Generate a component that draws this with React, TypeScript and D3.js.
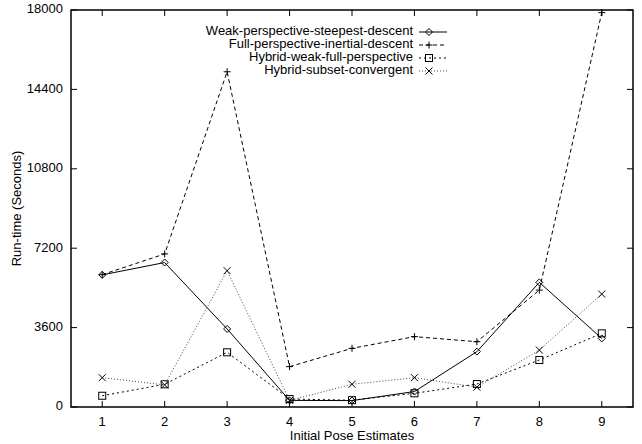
import React from "react";
import * as d3 from "d3";

const xCategories = [1, 2, 3, 4, 5, 6, 7, 8, 9];
const yTicks = [0, 3600, 7200, 10800, 14400, 18000];

const weakSteepest = [5990, 6550, 3540, 300, 290, 700, 2510, 5650, 3110];
const fullInertial = [6000, 6940, 15200, 1830, 2660, 3190, 2960, 5300, 17880];
const hybridWeakFull = [510, 1030, 2480, 360, 310, 620, 1040, 2130, 3340];
const hybridSubset = [1330, 1000, 6180, 300, 1030, 1330, 900, 2580, 5120];

const seriesNames = [
  "Weak-perspective-steepest-descent",
  "Full-perspective-inertial-descent",
  "Hybrid-weak-full-perspective",
  "Hybrid-subset-convergent",
];

const W = 642;
const H = 444;
const M = { left: 71, right: 633, top: 10, bottom: 407 };
const FONT = "'Liberation Sans', Arial, Helvetica, sans-serif";

type Series = {
  name: string;
  values: number[];
  dash: string;
  color: string;
  marker: "diamond" | "plus" | "square" | "cross";
};

const series: Series[] = [
  { name: seriesNames[0], values: weakSteepest, dash: "none", color: "#000", marker: "diamond" },
  { name: seriesNames[1], values: fullInertial, dash: "4,3", color: "#000", marker: "plus" },
  { name: seriesNames[2], values: hybridWeakFull, dash: "2,3", color: "#000", marker: "square" },
  { name: seriesNames[3], values: hybridSubset, dash: "1,2", color: "#444", marker: "cross" },
];

function Marker({ type, x, y }: { type: Series["marker"]; x: number; y: number }) {
  const s = 3.5;
  const common = { fill: "none", stroke: "#000", strokeWidth: 1 };
  if (type === "diamond") {
    return <path d={`M${x},${y - s}L${x + s},${y}L${x},${y + s}L${x - s},${y}Z`} {...common} />;
  }
  if (type === "plus") {
    return <path d={`M${x - s},${y}H${x + s}M${x},${y - s}V${y + s}`} {...common} />;
  }
  if (type === "square") {
    return <rect x={x - s} y={y - s} width={2 * s} height={2 * s} {...common} />;
  }
  return <path d={`M${x - s},${y - s}L${x + s},${y + s}M${x - s},${y + s}L${x + s},${y - s}`} {...common} />;
}

export default function App() {
  const x = d3.scaleLinear().domain([0.5, 9.5]).range([M.left, M.right]);
  const y = d3.scaleLinear().domain([0, 18000]).range([M.bottom, M.top]);
  const line = d3
    .line<number>()
    .x((_, i) => x(xCategories[i]))
    .y((d) => y(d));

  const tickLen = 6;
  const legendTextX = 413;
  const legendY0 = 32;
  const legendStep = 13;

  return (
    <div style={{ position: "absolute", left: 0, top: 0 }}>
      <svg width={W} height={H} style={{ display: "block", background: "#fff" }}>
        <rect x={0} y={0} width={W} height={H} fill="#fff" />
        {/* ticks */}
        {xCategories.map((c) => (
          <g key={"xt" + c}>
            <line x1={x(c)} x2={x(c)} y1={M.bottom} y2={M.bottom - tickLen} stroke="#000" />
            <line x1={x(c)} x2={x(c)} y1={M.top} y2={M.top + tickLen} stroke="#000" />
            <text
              x={x(c)}
              y={423}
              textAnchor="middle"
              dominantBaseline="middle"
              fontFamily={FONT}
              fontSize={13}
            >
              {c}
            </text>
          </g>
        ))}
        {yTicks.map((t) => (
          <g key={"yt" + t}>
            <line x1={M.left} x2={M.left + tickLen} y1={y(t)} y2={y(t)} stroke="#000" />
            <line x1={M.right} x2={M.right - tickLen} y1={y(t)} y2={y(t)} stroke="#000" />
            <text
              x={63}
              y={y(t)}
              textAnchor="end"
              dominantBaseline="middle"
              fontFamily={FONT}
              fontSize={13}
            >
              {t}
            </text>
          </g>
        ))}
        {/* series */}
        {series.map((s) => (
          <g key={s.name}>
            <path
              d={line(s.values) || ""}
              fill="none"
              stroke={s.color}
              strokeWidth={1}
              strokeDasharray={s.dash}
            />
            {s.values.map((v, i) => (
              <Marker key={i} type={s.marker} x={x(xCategories[i])} y={y(v)} />
            ))}
          </g>
        ))}
        {/* frame */}
        <rect
          x={M.left}
          y={M.top}
          width={M.right - M.left}
          height={M.bottom - M.top}
          fill="none"
          stroke="#000"
          strokeWidth={1.5}
        />
        {/* legend */}
        {series.map((s, i) => {
          const ly = legendY0 + i * legendStep;
          return (
            <g key={"lg" + i}>
              <text
                x={legendTextX}
                y={ly}
                textAnchor="end"
                dominantBaseline="middle"
                fontFamily={FONT}
                fontSize={13}
              >
                {s.name}
              </text>
              <line
                x1={419}
                x2={447}
                y1={ly}
                y2={ly}
                stroke={s.color}
                strokeWidth={1}
                strokeDasharray={s.dash}
              />
              <Marker type={s.marker} x={429} y={ly} />
            </g>
          );
        })}
        {/* axis titles */}
        <text
          x={(M.left + M.right) / 2}
          y={437}
          textAnchor="middle"
          dominantBaseline="middle"
          fontFamily={FONT}
          fontSize={13}
        >
          Initial Pose Estimates
        </text>
        <text
          transform={`translate(18,${(M.top + M.bottom) / 2}) rotate(-90)`}
          textAnchor="middle"
          dominantBaseline="middle"
          fontFamily={FONT}
          fontSize={13}
        >
          Run-time (Seconds)
        </text>
      </svg>
    </div>
  );
}
